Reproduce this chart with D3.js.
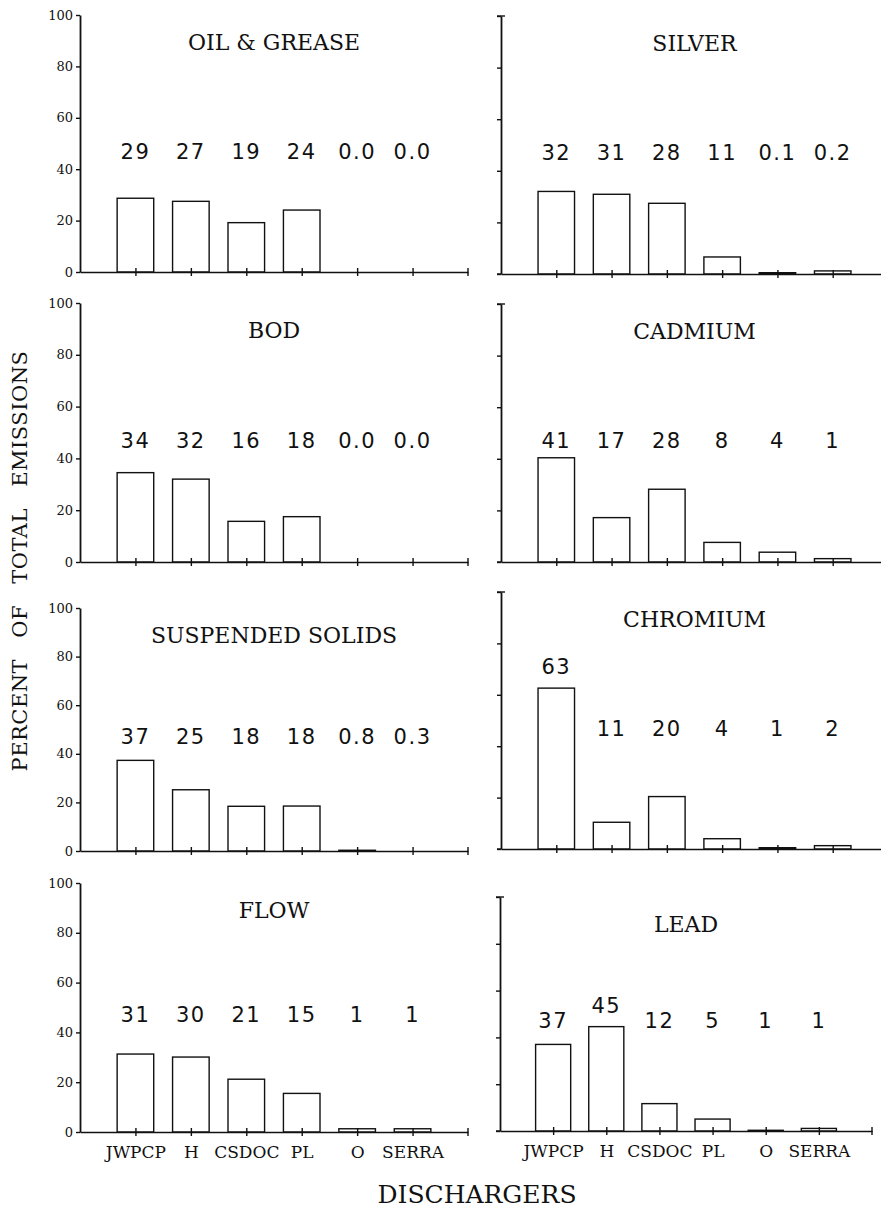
<!DOCTYPE html>
<html>
<head>
<meta charset="utf-8">
<script src="https://cdn.jsdelivr.net/npm/d3@7"></script>
<style>
  body { margin: 0; background: #fff; }
  svg { display: block; }
</style>
</head>
<body>
<script>
// ---------------- DATA ----------------
const dischargers = ["JWPCP", "H", "CSDOC", "PL", "O", "SERRA"];
const pollutants = ["OIL & GREASE", "SILVER", "BOD", "CADMIUM", "SUSPENDED SOLIDS", "CHROMIUM", "FLOW", "LEAD"];
const yTicks = [0, 20, 40, 60, 80, 100];

// bar heights (percent of total emissions)
const oilGrease = [28.7, 27.5, 19.2, 24.1, 0, 0];
const silver    = [32.0, 30.9, 27.4, 6.6, 0.5, 1.2];
const bod       = [34.5, 32.0, 15.7, 17.5, 0, 0];
const cadmium   = [40.4, 17.2, 28.2, 7.6, 3.8, 1.3];
const suspended = [37.3, 25.2, 18.4, 18.5, 0.3, 0];
const chromium  = [62.6, 10.4, 20.4, 4.0, 0.5, 1.3];
const flow      = [31.3, 30.1, 21.2, 15.5, 1.3, 1.3];
const lead      = [37.0, 44.6, 11.7, 5.1, 0.3, 1.1];

// printed value labels above the bars
const oilGreaseLabels = ["29", "27", "19", "24", "0.0", "0.0"];
const silverLabels    = ["32", "31", "28", "11", "0.1", "0.2"];
const bodLabels       = ["34", "32", "16", "18", "0.0", "0.0"];
const cadmiumLabels   = ["41", "17", "28", "8", "4", "1"];
const suspendedLabels = ["37", "25", "18", "18", "0.8", "0.3"];
const chromiumLabels  = ["63", "11", "20", "4", "1", "2"];
const flowLabels      = ["31", "30", "21", "15", "1", "1"];
const leadLabels      = ["37", "45", "12", "5", "1", "1"];

const seriesValues = [oilGrease, silver, bod, cadmium, suspended, chromium, flow, lead];
const seriesLabels = [oilGreaseLabels, silverLabels, bodLabels, cadmiumLabels,
                      suspendedLabels, chromiumLabels, flowLabels, leadLabels];

// ---------------- LAYOUT ----------------
const W = 881, H = 1211;
// per panel: x range, y top/base (scanned figure has slightly uneven panels)
const layout = [
  { xr: [80, 468], top: 15,  base: 272 },
  { xr: [501, 888], top: 16, base: 274 },
  { xr: [80, 468], top: 303, base: 562 },
  { xr: [501, 888], top: 304, base: 562 },
  { xr: [80, 468], top: 608, base: 851 },
  { xr: [501, 888], top: 592, base: 849 },
  { xr: [80, 468], top: 883, base: 1132 },
  { xr: [500, 872], top: 897, base: 1131 }
];
const INK = "#111";
const SW = 1.4;

const svg = d3.select("body").append("svg")
  .attr("width", W).attr("height", H)
  .attr("viewBox", `0 0 ${W} ${H}`);
svg.append("rect").attr("width", W).attr("height", H).attr("fill", "#fff");

pollutants.forEach((name, i) => {
  const L = layout[i];
  const isLeft = i % 2 === 0;
  const isBottom = i >= 6;
  const vals = seriesValues[i];
  const labs = seriesLabels[i];

  const x = d3.scalePoint().domain(dischargers).range(L.xr).padding(1);
  const y = d3.scaleLinear().domain([0, 100]).range([L.base, L.top]);
  const bw = x.step() * 0.66;

  const g = svg.append("g").attr("class", "panel");

  // bars
  g.selectAll("rect.bar").data(dischargers).join("rect")
    .attr("class", "bar")
    .attr("x", d => x(d) - bw / 2)
    .attr("y", (d, j) => y(vals[j]))
    .attr("width", bw)
    .attr("height", (d, j) => y(0) - y(vals[j]))
    .attr("fill", "#fff")
    .attr("stroke", INK)
    .attr("stroke-width", SW);

  // x axis
  const xa = g.append("g")
    .attr("transform", `translate(0,${L.base})`)
    .call(d3.axisBottom(x).tickSize(4).tickSizeOuter(0).tickPadding(10)
      .tickFormat(isBottom ? (d => d) : () => ""));
  xa.select(".domain").attr("stroke", INK).attr("stroke-width", SW);
  xa.selectAll(".tick line").attr("y1", -4).attr("y2", 4)
    .attr("stroke", INK).attr("stroke-width", SW);
  xa.append("line")
    .attr("x1", L.xr[1]).attr("x2", L.xr[1]).attr("y1", -4).attr("y2", 4)
    .attr("stroke", INK).attr("stroke-width", SW);
  if (!isLeft) {
    xa.append("line")
      .attr("x1", L.xr[0] - 4).attr("x2", L.xr[0]).attr("y1", 0).attr("y2", 0)
      .attr("stroke", INK).attr("stroke-width", SW);
  }
  xa.selectAll(".tick text")
    .attr("fill", INK)
    .style("font-family", "'DejaVu Serif', serif")
    .style("font-size", "17px");

  // y axis
  const ya = g.append("g")
    .attr("transform", `translate(${L.xr[0]},0)`)
    .call(d3.axisLeft(y).tickValues(yTicks).tickSize(4).tickSizeOuter(0).tickPadding(3)
      .tickFormat(isLeft ? d3.format("d") : () => ""));
  ya.select(".domain").attr("stroke", INK).attr("stroke-width", SW + 0.4);
  ya.selectAll(".tick line").attr("stroke", INK).attr("stroke-width", SW);
  ya.selectAll(".tick text")
    .attr("fill", INK)
    .style("font-family", "'DejaVu Serif', serif")
    .style("font-size", "13px");
  if (!isLeft) {
    ya.append("line")
      .attr("x1", -4).attr("x2", 4).attr("y1", y(100)).attr("y2", y(100))
      .attr("stroke", INK).attr("stroke-width", SW);
  }

  // panel title
  g.append("text")
    .attr("x", (L.xr[0] + L.xr[1]) / 2)
    .attr("y", L.top + 35)
    .attr("text-anchor", "middle")
    .attr("fill", INK)
    .style("font-family", "'DejaVu Serif', serif")
    .style("font-size", "22px")
    .text(name);

  // value labels
  g.selectAll("text.val").data(dischargers).join("text")
    .attr("class", "val")
    .attr("x", d => x(d))
    .attr("y", (d, j) => vals[j] >= 44 ? y(vals[j]) - 14 : y(44))
    .attr("text-anchor", "middle")
    .attr("fill", INK)
    .style("font-family", "'DejaVu Sans', sans-serif")
    .style("font-size", "21px")
    .style("letter-spacing", "1.5px")
    .text((d, j) => labs[j]);
});

// axis titles
svg.append("text")
  .attr("transform", "translate(27,561) rotate(-90)")
  .attr("text-anchor", "middle")
  .attr("fill", INK)
  .style("font-family", "'DejaVu Serif', serif")
  .style("font-size", "21px")
  .style("word-spacing", "14px")
  .style("letter-spacing", "0.5px")
  .text("PERCENT OF TOTAL EMISSIONS");

svg.append("text")
  .attr("x", 477).attr("y", 1203)
  .attr("text-anchor", "middle")
  .attr("fill", INK)
  .style("font-family", "'DejaVu Serif', serif")
  .style("font-size", "25px")
  .text("DISCHARGERS");
</script>
</body>
</html>
